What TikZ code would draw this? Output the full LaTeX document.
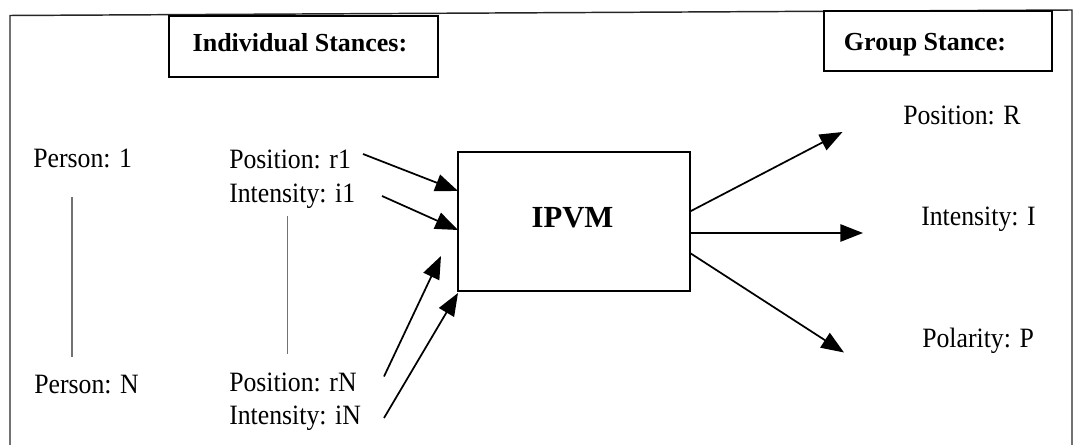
\documentclass[tikz,border=0pt]{standalone}
\usepackage{fontspec}
\setmainfont{Liberation Serif}
\newfontfamily\narrowserif{Liberation Serif}[FakeStretch=0.92]
\usetikzlibrary{arrows.meta}
\begin{document}
\begin{tikzpicture}[x=0.75pt,y=-0.75pt,
  label/.style={inner sep=0pt,font=\narrowserif\fontsize{21pt}{24pt}\selectfont},
  heading/.style={inner sep=0pt,font=\fontsize{19.5pt}{22pt}\selectfont\bfseries},
  frameline/.style={line width=1.1pt,draw=black!85},
  boxline/.style={line width=1.2pt,draw=black},
  ellipsis/.style={line width=0.8pt,draw=black!55},
  flow/.style={line width=1.3pt,-{Triangle[length=17pt,width=13pt]}}]
\useasboundingbox (0,0) rectangle (1076,445);

% outer frame, open at the bottom
\draw[frameline] (10,445) -- (10,15.5) -- (1072,10) -- (1072,445);

% heading boxes
\draw[boxline,fill=white] (169,16) rectangle (438,77);
\node[heading,anchor=base] (indiv) at (300,52) {Individual Stances:};
\draw[boxline,fill=white] (824,11) rectangle (1052,71);
\node[heading,anchor=base] (group) at (925,50.5) {Group Stance:};

% persons
\node[label,anchor=base west] (p1) at (33,168) {Person: 1};
\node[label,anchor=base west] (pN) at (34,393.5) {Person: N};
\coordinate (pl1) at (72,197);
\coordinate (pl2) at (72,357);
\draw[ellipsis] (pl1) -- (pl2);

% individual position and intensity
\node[label,anchor=base west] (r1) at (229,168.5) {Position: r1};
\node[label,anchor=base west] (i1) at (229,202.5) {Intensity: i1};
\node[label,anchor=base west] (rN) at (229,391.5) {Position: rN};
\node[label,anchor=base west] (iN) at (229,424.5) {Intensity: iN};
\coordinate (il1) at (287.5,216);
\coordinate (il2) at (287.5,354);
\draw[ellipsis] (il1) -- (il2);

% model box
\node[draw,line width=1.2pt,minimum width=232*0.75pt,minimum height=139*0.75pt,
      inner sep=0pt] (ipvm) at (574,221.5) {};
\node[inner sep=0pt,anchor=base,font=\fontsize{23pt}{26pt}\selectfont\bfseries]
      (ipvmtext) at (572.5,228) {IPVM};

% inputs
\coordinate (a1s) at (363,154);
\coordinate (a1e) at (458,191);
\coordinate (a2s) at (382,196);
\coordinate (a2e) at (458,230);
\coordinate (a3s) at (384,376.5);
\coordinate (a3e) at (441,256);
\coordinate (a4s) at (384,418);
\coordinate (a4e) at (458,293);
\draw[flow] (a1s) -- (a1e);
\draw[flow] (a2s) -- (a2e);
\draw[flow] (a3s) -- (a3e);
\draw[flow] (a4s) -- (a4e);

% outputs
\coordinate (o1s) at (690,211.5);
\coordinate (o1e) at (842.5,132);
\coordinate (o2s) at (690,233);
\coordinate (o2e) at (863,233);
\coordinate (o3s) at (690,253);
\coordinate (o3e) at (844,352.5);
\draw[flow] (o1s) -- (o1e);
\draw[flow] (o2s) -- (o2e);
\draw[flow] (o3s) -- (o3e);

% group stance values
\node[label,anchor=base west] (posR) at (903,125) {Position: R};
\node[label,anchor=base west] (intI) at (921,225.5) {Intensity: I};
\node[label,anchor=base west] (polP) at (922,347.5) {Polarity: P};
\end{tikzpicture}
\end{document}
